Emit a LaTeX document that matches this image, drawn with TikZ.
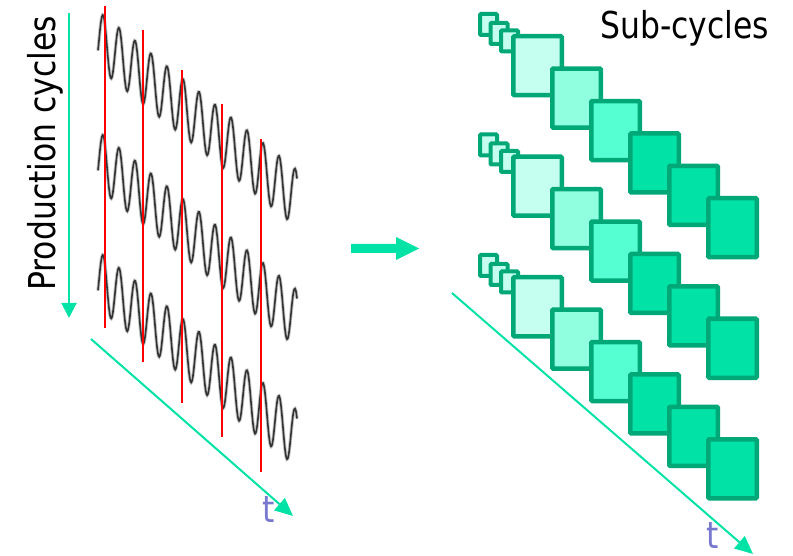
\documentclass[tikz,border=0pt]{standalone}
\usepackage{fontspec}
\newfontfamily\tah[FakeStretch=0.85]{DejaVu Sans}
\usetikzlibrary{arrows.meta}
\definecolor{mint}{RGB}{0,226,166}
\definecolor{edgec}{RGB}{0,168,120}
\definecolor{fA}{RGB}{196,255,240}
\definecolor{fB}{RGB}{144,255,224}
\definecolor{fC}{RGB}{86,255,210}
\definecolor{fD}{RGB}{0,226,166}
\definecolor{tcol}{RGB}{120,120,208}
\tikzset{
  smallsq/.style={draw=edgec, fill=fA, line width=4pt, rectangle, inner sep=0pt, minimum width=17pt, minimum height=21pt, rounded corners=1pt},
  bigsq/.style={draw=edgec, line width=4.5pt, rectangle, inner sep=0pt, minimum width=48.5pt, minimum height=59pt, rounded corners=1pt},
  halo/.style={draw=black!22, line width=3.4pt},
  wave/.style={draw=black!80, line width=1.6pt},
  redline/.style={draw=red, line width=2pt},
  garrow/.style={draw=mint, line width=2pt, -{Triangle[length=15pt,width=15pt]}},
  darrow/.style={draw=mint, line width=2pt, -{Triangle[length=18pt,width=16pt]}},
  bigtext/.style={font=\tah\fontsize{37}{40}\selectfont, inner sep=0pt},
}
\begin{document}
\begin{tikzpicture}[x=1pt,y=-1pt]
\useasboundingbox (0,0) rectangle (793,556);

% waves
\foreach \o in {0,120,240} {
  \draw[halo] plot[domain=98:297,samples=300,smooth] (\x,{\o+43.5+0.8*(\x-103)-28.5*cos(22.5*(\x-103))});
  \draw[wave] plot[domain=98:297,samples=300,smooth] (\x,{\o+43.5+0.8*(\x-103)-28.5*cos(22.5*(\x-103))});
}
% red separators
\foreach \x/\a/\b in {105/6/328, 143/30/362, 182/70/403, 222/104/437, 261/139/472}
  \draw[redline] (\x,\a) -- (\x,\b);

% left axes
\coordinate (va1) at (69,13);
\coordinate (va2) at (69,318);
\draw[garrow] (va1) -- (va2);
\coordinate (ta1) at (91,339);
\coordinate (ta2) at (293,516);
\draw[darrow] (ta1) -- (ta2);
\node[bigtext, rotate=90, anchor=base west] (prod) at (55,291) {Production cycles};
\node[bigtext, text=tcol, anchor=base] (tl) at (269,522) {t};

% middle block arrow
\fill[mint] (351,244) -- (396,244) -- (396,237) -- (419,248.5) -- (396,260) -- (396,253) -- (351,253) -- cycle;

% squares
\foreach \r in {0,1,2} {
  \foreach \i/\cx/\cy in {1/488.5/24.5, 2/499/33.5, 3/509.5/41}
    \node[smallsq] (s\r\i) at (\cx, \cy+120.5*\r) {};
  \foreach \i/\c in {0/fA,1/fB,2/fC,3/fD,4/fD,5/fD}
    \node[bigsq, fill=\c] (b\r\i) at (537.5+39*\i, 65.75+32.4*\i+120.5*\r) {};
}
\node[bigtext, anchor=base west] (sub) at (600,39) {Sub-cycles};

% right time axis
\coordinate (tb1) at (452,293);
\coordinate (tb2) at (753,554);
\draw[darrow] (tb1) -- (tb2);
\node[bigtext, text=tcol, anchor=base] (tr) at (713,548) {t};
\end{tikzpicture}
\end{document}
